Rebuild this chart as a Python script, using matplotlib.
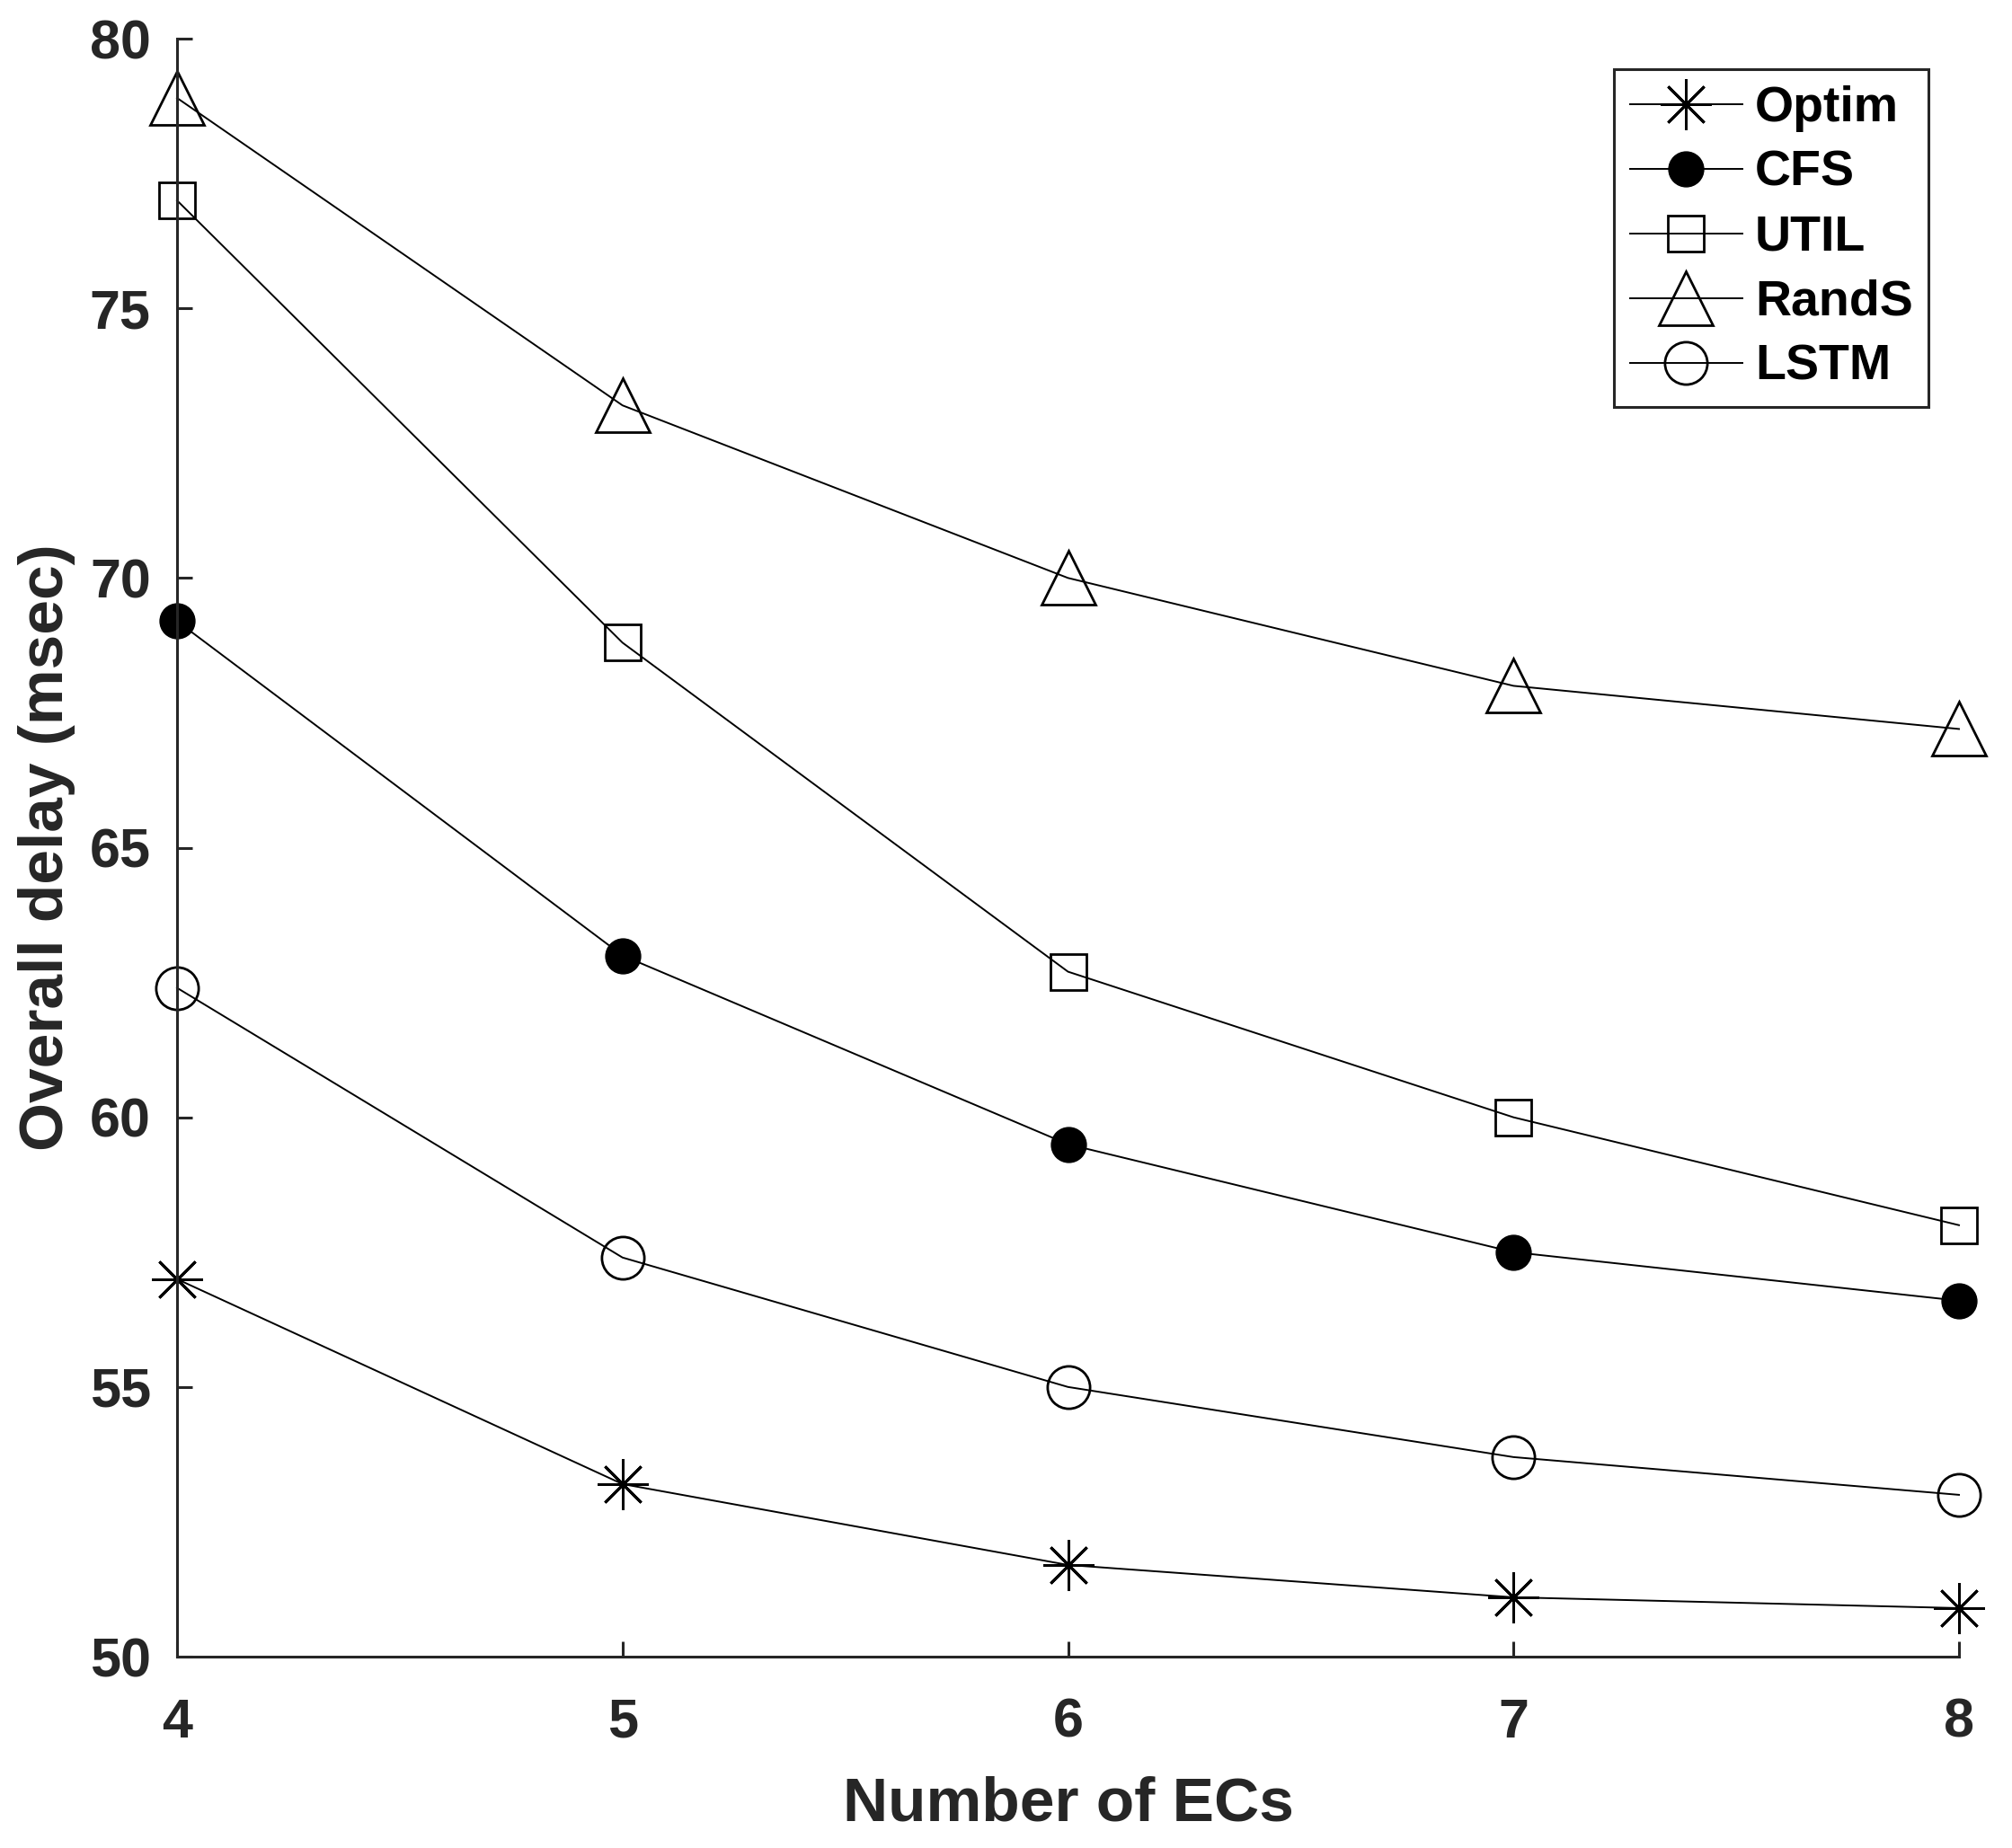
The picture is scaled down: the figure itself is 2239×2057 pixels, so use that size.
import matplotlib
matplotlib.use("Agg")
import matplotlib.pyplot as plt

x_ecs = [4, 5, 6, 7, 8]
optim = [57.0, 53.2, 51.7, 51.1, 50.9]
cfs = [69.2, 63.0, 59.5, 57.5, 56.6]
util = [77.0, 68.8, 62.7, 60.0, 58.0]
rands = [78.9, 73.2, 70.0, 68.0, 67.2]
lstm = [62.4, 57.4, 55.0, 53.7, 53.0]
x_ticks = [4, 5, 6, 7, 8]
y_ticks = [50, 55, 60, 65, 70, 75, 80]

plt.rcParams['font.family'] = ['Liberation Sans', 'DejaVu Sans']
plt.rcParams['font.weight'] = 'bold'

W, H = 2239, 2057
fig = plt.figure(figsize=(W / 100, H / 100), dpi=100)
L, R, T, B = 197, 2180, 43, 1844
ax = fig.add_axes([L / W, 1 - B / H, (R - L) / W, (B - T) / H])

lw = 1.4
mew = 2.0
ax.plot(x_ecs, optim, color='black', lw=lw, marker=(8, 2, 0), ms=41, mew=mew, label='Optim')
ax.plot(x_ecs, cfs, color='black', lw=lw, marker='o', ms=28, mfc='black', mec='black', label='CFS')
ax.plot(x_ecs, util, color='black', lw=lw, marker='s', ms=29, mfc='none', mec='black', mew=mew, label='UTIL')
ax.plot(x_ecs, rands, color='black', lw=lw, marker='^', ms=43, mfc='none', mec='black', mew=mew, label='RandS')
ax.plot(x_ecs, lstm, color='black', lw=lw, marker='o', ms=34, mfc='none', mec='black', mew=mew, label='LSTM')

ax.set_xlim(4, 8)
ax.set_ylim(50, 80)
ax.set_xticks(x_ticks)
ax.set_yticks(y_ticks)
for s in ['top', 'right']:
    ax.spines[s].set_visible(False)
for s in ['left', 'bottom']:
    ax.spines[s].set_linewidth(2.2)
    ax.spines[s].set_color('#262626')
ax.tick_params(direction='in', length=12, width=2.2, colors='#262626', labelsize=44)
ax.tick_params(axis='x', pad=33)
ax.tick_params(axis='y', pad=21)
for lab in ax.get_xticklabels() + ax.get_yticklabels():
    lab.set_fontweight('bold')

ax.set_xlabel('Number of ECs', fontsize=50, fontweight='bold', color='#262626')
ax.set_ylabel('Overall delay (msec)', fontsize=50, fontweight='bold', color='#262626')
ax.xaxis.set_label_coords(0.5, -0.0735)
ax.yaxis.set_label_coords(-0.057, 0.5)

leg = ax.legend(loc='upper right', bbox_to_anchor=(0.983, 0.981),
                prop={'weight': 'bold', 'size': 40}, frameon=True, fancybox=False,
                edgecolor='#262626', handlelength=2.25, handletextpad=0.25,
                borderpad=0.32, labelspacing=0.36, borderaxespad=0, numpoints=1)
leg.get_frame().set_linewidth(2.2)
leg.get_frame().set_alpha(1)
for l in ax.lines:
    l.set_clip_on(False)

fig.savefig('out.png', dpi=100)
